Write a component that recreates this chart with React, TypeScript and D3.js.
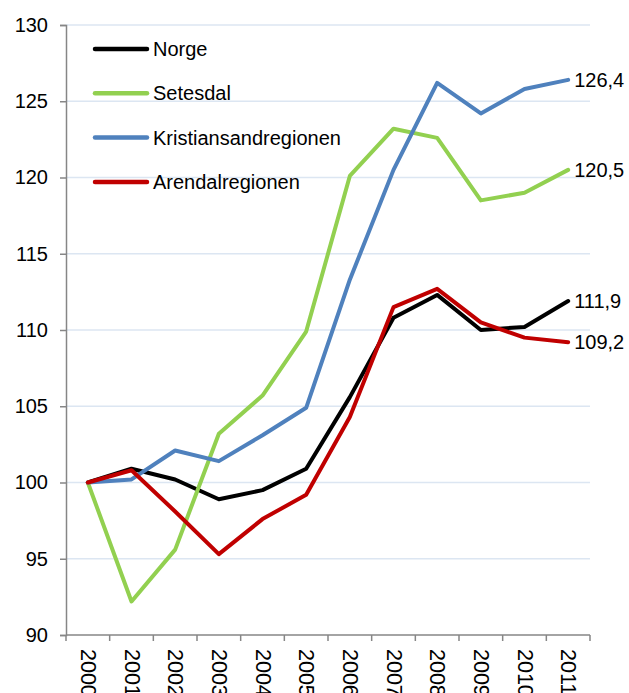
import React, { useRef, useEffect } from "react";
import * as d3 from "d3";

const years = ["2000", "2001", "2002", "2003", "2004", "2005", "2006", "2007", "2008", "2009", "2010", "2011"];
const norge = [100, 100.9, 100.2, 98.9, 99.5, 100.9, 105.6, 110.8, 112.3, 110.0, 110.2, 111.9];
const setesdal = [100, 92.2, 95.6, 103.2, 105.7, 109.9, 120.1, 123.2, 122.6, 118.5, 119.0, 120.5];
const kristiansand = [100, 100.2, 102.1, 101.4, 103.1, 104.9, 113.3, 120.5, 126.2, 124.2, 125.8, 126.4];
const arendal = [100, 100.8, 98.1, 95.3, 97.6, 99.2, 104.3, 111.5, 112.7, 110.5, 109.5, 109.2];
const yTicks = [90, 95, 100, 105, 110, 115, 120, 125, 130];
const endLabels = ["111,9", "120,5", "126,4", "109,2"];

const series = [
  { name: "Norge", values: norge, color: "#000000" },
  { name: "Setesdal", values: setesdal, color: "#92d050" },
  { name: "Kristiansandregionen", values: kristiansand, color: "#4f81bd" },
  { name: "Arendalregionen", values: arendal, color: "#c00000" },
];

const App = () => {
  const svgRef = useRef(null);

  useEffect(() => {
    const width = 629;
    const height = 693;
    const left = 66, right = 590, top = 25, bottom = 635;
    const font = "Liberation Sans, Arial, sans-serif";

    const svg = d3.select(svgRef.current);
    svg.selectAll("*").remove();
    svg.attr("width", width).attr("height", height);

    const x = d3.scaleBand().domain(years).range([left, right]);
    const y = d3.scaleLinear().domain([90, 130]).range([bottom, top]);
    const cx = (i) => x(years[i]) + x.bandwidth() / 2;

    // gridlines
    svg.append("g")
      .selectAll("line")
      .data(yTicks.filter((t) => t > 90))
      .enter()
      .append("line")
      .attr("x1", left)
      .attr("x2", right)
      .attr("y1", (d) => y(d))
      .attr("y2", (d) => y(d))
      .attr("stroke", "#dce6f2")
      .attr("stroke-width", 1.5);

    // y axis
    const yAxis = svg.append("g")
      .attr("transform", `translate(${left},0)`)
      .call(d3.axisLeft(y).tickValues(yTicks).tickSize(6).tickPadding(12));
    yAxis.select(".domain").attr("stroke", "#868686").attr("stroke-width", 1.5);
    yAxis.selectAll(".tick line").attr("stroke", "#868686").attr("stroke-width", 1.5);
    yAxis.selectAll("text").attr("font-family", font).attr("font-size", 20).attr("fill", "#000");

    // x axis
    const xAxis = svg.append("g")
      .attr("transform", `translate(0,${bottom})`);
    xAxis.append("line")
      .attr("x1", left).attr("x2", right)
      .attr("stroke", "#868686").attr("stroke-width", 1.5);
    xAxis.selectAll(".tk")
      .data(d3.range(years.length + 1))
      .enter()
      .append("line")
      .attr("class", "tk")
      .attr("x1", (i) => left + i * x.bandwidth())
      .attr("x2", (i) => left + i * x.bandwidth())
      .attr("y1", 0)
      .attr("y2", 6)
      .attr("stroke", "#868686")
      .attr("stroke-width", 1.5);
    xAxis.selectAll("text")
      .data(years)
      .enter()
      .append("text")
      .attr("transform", (d, i) => `translate(${cx(i)},14) rotate(90)`)
      .attr("dominant-baseline", "central")
      .attr("font-family", font)
      .attr("font-size", 21.5)
      .text((d) => d);

    // lines
    const line = d3.line()
      .x((d, i) => cx(i))
      .y((d) => y(d));

    series.forEach((s) => {
      svg.append("path")
        .datum(s.values)
        .attr("d", line)
        .attr("fill", "none")
        .attr("stroke", s.color)
        .attr("stroke-width", 4)
        .attr("stroke-linejoin", "round")
        .attr("stroke-linecap", "round");
    });

    // end labels
    series.forEach((s, k) => {
      const last = s.values.length - 1;
      svg.append("text")
        .attr("x", cx(last) + 6)
        .attr("y", y(s.values[last]))
        .attr("dominant-baseline", "central")
        .attr("font-family", font)
        .attr("font-size", 20)
        .text(endLabels[k]);
    });

    // legend
    const legend = svg.append("g");
    series.forEach((s, k) => {
      const ly = 49 + k * 44.3;
      legend.append("line")
        .attr("x1", 95).attr("x2", 147)
        .attr("y1", ly).attr("y2", ly)
        .attr("stroke", s.color)
        .attr("stroke-width", 4.5)
        .attr("stroke-linecap", "round");
      legend.append("text")
        .attr("x", 153)
        .attr("y", ly)
        .attr("dominant-baseline", "central")
        .attr("font-family", font)
        .attr("font-size", 20)
        .text(s.name);
    });
  }, []);

  return <svg ref={svgRef} style={{ position: "absolute", left: 0, top: 0 }}></svg>;
};

export default App;
